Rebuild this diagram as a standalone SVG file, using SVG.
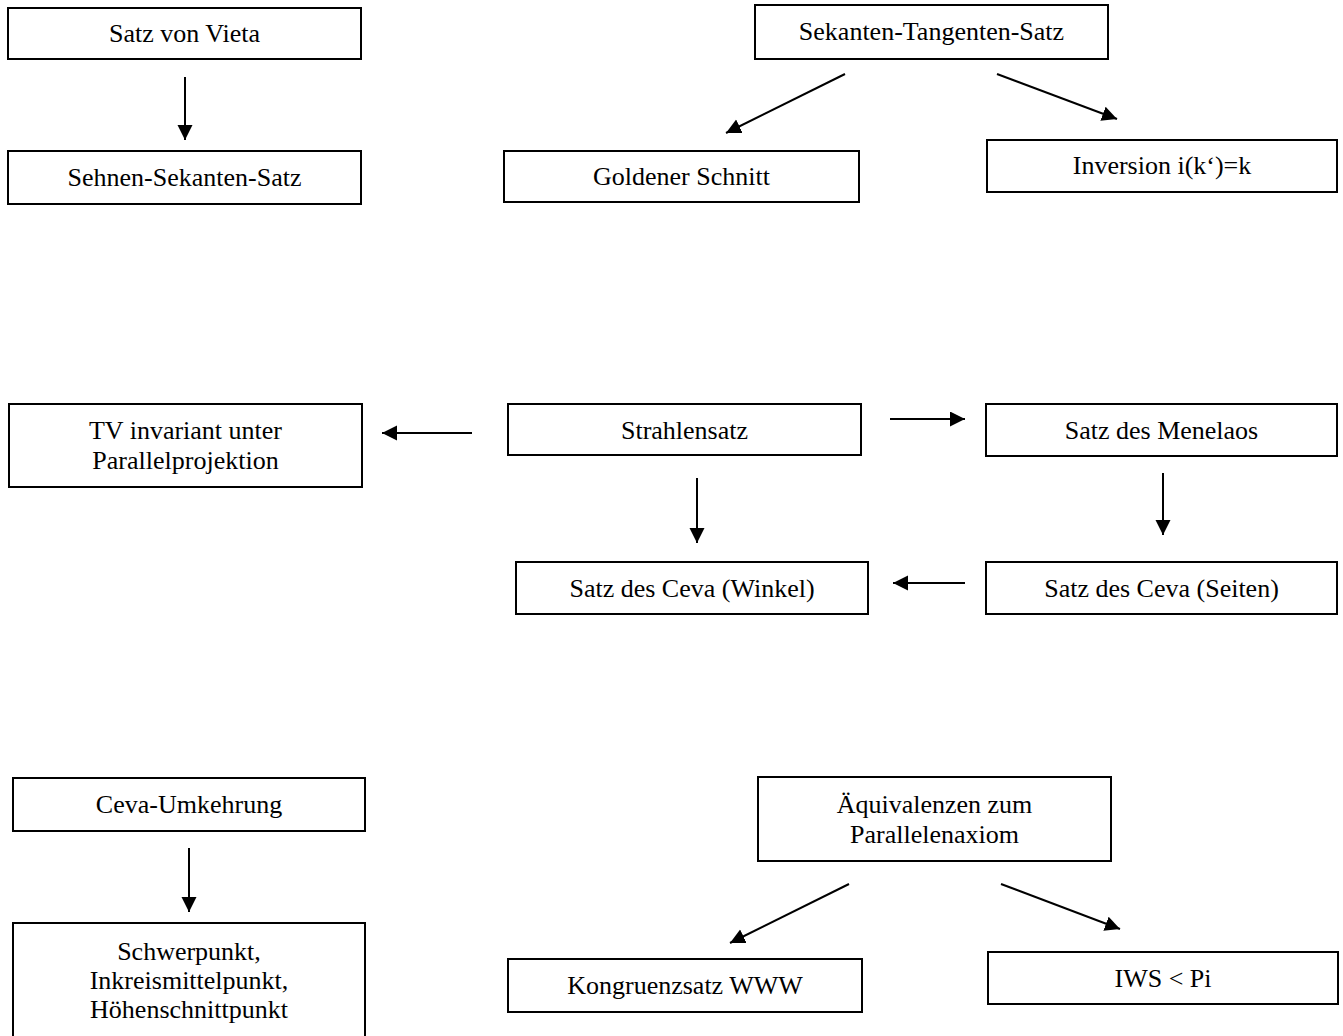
<svg xmlns="http://www.w3.org/2000/svg" width="1343" height="1036" viewBox="0 0 1343 1036">
<style>
.box{fill:#fff;stroke:#000;stroke-width:2}
.t{font-family:"Liberation Serif","Times New Roman",serif;font-size:26px;fill:#000;text-anchor:middle}
.c{stroke:#000;stroke-width:2;fill:none;marker-end:url(#ah)}
</style>
<defs>
<marker id="ah" markerUnits="userSpaceOnUse" markerWidth="16" markerHeight="16" refX="15" refY="7.5" orient="auto" viewBox="0 0 16 16">
<path d="M0,0 L15,7.5 L0,15 z" fill="#000"/>
</marker>
</defs>
<rect width="1343" height="1036" fill="#fff"/>
<g id="n-vieta"><rect class="box" x="8" y="8" width="353" height="51"/><text class="t" x="184.5" y="42">Satz von Vieta</text></g>
<g id="n-sehnen"><rect class="box" x="8" y="151" width="353" height="53"/><text class="t" x="184.5" y="186">Sehnen-Sekanten-Satz</text></g>
<g id="n-sekanten"><rect class="box" x="755" y="5" width="353" height="54"/><text class="t" x="931.5" y="40">Sekanten-Tangenten-Satz</text></g>
<g id="n-goldener"><rect class="box" x="504" y="151" width="355" height="51"/><text class="t" x="681.5" y="185">Goldener Schnitt</text></g>
<g id="n-inversion"><rect class="box" x="987" y="140" width="350" height="52"/><text class="t" x="1162" y="174">Inversion i(k‘)=k</text></g>
<g id="n-tv"><rect class="box" x="9" y="404" width="353" height="83"/><text class="t" x="185.5" y="439">TV invariant unter</text><text class="t" x="185.5" y="469">Parallelprojektion</text></g>
<g id="n-strahlen"><rect class="box" x="508" y="404" width="353" height="51"/><text class="t" x="684.5" y="439">Strahlensatz</text></g>
<g id="n-menelaos"><rect class="box" x="986" y="404" width="351" height="52"/><text class="t" x="1161.5" y="439">Satz des Menelaos</text></g>
<g id="n-cevawinkel"><rect class="box" x="516" y="562" width="352" height="52"/><text class="t" x="692" y="597">Satz des Ceva (Winkel)</text></g>
<g id="n-cevaseiten"><rect class="box" x="986" y="562" width="351" height="52"/><text class="t" x="1161.5" y="597">Satz des Ceva (Seiten)</text></g>
<g id="n-cevaumk"><rect class="box" x="13" y="778" width="352" height="53"/><text class="t" x="189" y="813">Ceva-Umkehrung</text></g>
<g id="n-schwer"><rect class="box" x="13" y="923" width="352" height="130"/><text class="t" x="189" y="960">Schwerpunkt,</text><text class="t" x="189" y="989">Inkreismittelpunkt,</text><text class="t" x="189" y="1018">Höhenschnittpunkt</text></g>
<g id="n-aequiv"><rect class="box" x="758" y="777" width="353" height="84"/><text class="t" x="934.5" y="813">Äquivalenzen zum</text><text class="t" x="934.5" y="843">Parallelenaxiom</text></g>
<g id="n-kongruenz"><rect class="box" x="508" y="959" width="354" height="53"/><text class="t" x="685" y="994">Kongruenzsatz WWW</text></g>
<g id="n-iws"><rect class="box" x="988" y="952" width="350" height="52"/><text class="t" x="1163" y="987">IWS &lt; Pi</text></g>
<g id="connectors">
<line class="c" x1="185" y1="77" x2="185" y2="140"/>
<line class="c" x1="845" y1="74" x2="726" y2="133"/>
<line class="c" x1="997" y1="74" x2="1117" y2="119"/>
<line class="c" x1="472" y1="433" x2="382" y2="433"/>
<line class="c" x1="890" y1="419" x2="965" y2="419"/>
<line class="c" x1="697" y1="478" x2="697" y2="543"/>
<line class="c" x1="1163" y1="473" x2="1163" y2="535"/>
<line class="c" x1="965" y1="583" x2="893" y2="583"/>
<line class="c" x1="189" y1="848" x2="189" y2="912"/>
<line class="c" x1="849" y1="884" x2="730" y2="943"/>
<line class="c" x1="1001" y1="884" x2="1120" y2="929"/>
</g>
</svg>
